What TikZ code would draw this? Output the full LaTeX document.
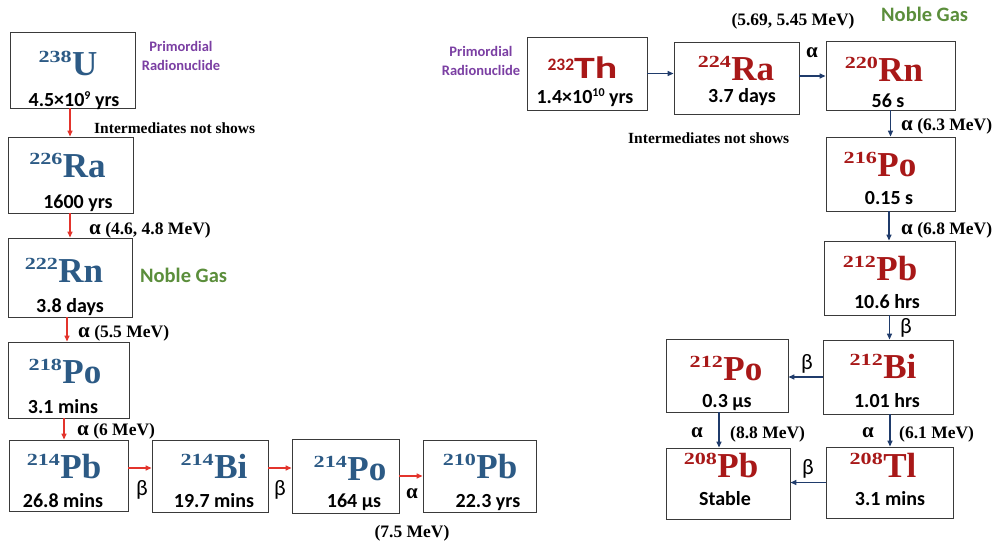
\documentclass[tikz,border=0pt]{standalone}
\usepackage{fontspec}
\setmainfont{Liberation Serif}
\newfontfamily\calfont{Carlito}
\newfontfamily\supfont[FakeStretch=1.3]{Liberation Serif}
\newfontfamily\thfont[FakeStretch=1.35]{Carlito}
\usetikzlibrary{arrows.meta}
\definecolor{ublue}{HTML}{2C5A85}
\definecolor{tred}{HTML}{A81818}
\definecolor{arrred}{HTML}{E3342C}
\definecolor{arrnavy}{HTML}{1F3B6B}
\definecolor{purp}{HTML}{7B3FA3}
\definecolor{ngreen}{HTML}{5B8E3B}
\definecolor{boxc}{HTML}{3A3A3A}
\newcommand\isoS[2]{\raisebox{13pt}{\fontsize{17}{17}\selectfont\supfont\bfseries #1}\kern0.5pt{\fontsize{35}{35}\selectfont\bfseries #2}}
\newcommand\isoTh[2]{\raisebox{8pt}{\fontsize{17.5}{17.5}\selectfont\calfont\bfseries #1}{\fontsize{31}{31}\selectfont\thfont\bfseries #2}}
\newcommand\tsup[1]{\raisebox{7pt}{\fontsize{12}{12}\selectfont #1}}
\tikzset{
  nbox/.style={draw=boxc, line width=0.9pt, inner sep=0pt, fill=white},
  symL/.style={text=ublue, inner sep=0pt, anchor=base},
  symR/.style={text=tred, inner sep=0pt, anchor=base},
  tlab/.style={inner sep=0pt, anchor=base, text=black, font=\calfont\bfseries\fontsize{20}{20}\selectfont},
  elab/.style={inner sep=0pt, anchor=base west, font=\bfseries\fontsize{17.5}{17.5}\selectfont},
  glab/.style={inner sep=0pt, anchor=base, font=\bfseries\fontsize{21}{21}\selectfont},
  blab/.style={inner sep=0pt, anchor=base, font=\calfont\fontsize{22}{22}\selectfont},
  plab/.style={inner sep=0pt, text=purp, align=center, font=\calfont\bfseries\fontsize{14.5}{19}\selectfont},
  nglab/.style={inner sep=0pt, anchor=base west, text=ngreen, font=\calfont\bfseries\fontsize{20.5}{20.5}\selectfont},
  ilab/.style={inner sep=0pt, anchor=base west, font=\bfseries\fontsize{15.5}{15.5}\selectfont},
  arrR/.style={draw=arrred, line width=1.4pt, -{Triangle[length=6pt,width=5pt]}},
  arrN/.style={draw=arrnavy, line width=1.4pt, -{Triangle[length=6pt,width=5pt]}}
}
\begin{document}
\begin{tikzpicture}[x=1pt,y=-1pt]
\useasboundingbox (0,0) rectangle (998,544);
\fill[white] (0,0) rectangle (998,544);
% ---------- left chain boxes ----------
\node[nbox, minimum width=125pt, minimum height=76pt] (U238) at (72.5,70) {};
\node[nbox, minimum width=125pt, minimum height=76pt] (Ra226) at (70.5,175) {};
\node[nbox, minimum width=124pt, minimum height=79pt] (Rn222) at (70,277.5) {};
\node[nbox, minimum width=121pt, minimum height=76pt] (Po218) at (68.5,380) {};
\node[nbox, minimum width=119pt, minimum height=71pt] (Pb214) at (68.5,475.5) {};
\node[nbox, minimum width=116pt, minimum height=72pt] (Bi214) at (210,476) {};
\node[nbox, minimum width=107pt, minimum height=74pt] (Po214) at (345.5,476) {};
\node[nbox, minimum width=113pt, minimum height=72pt] (Pb210) at (479.5,476) {};
% texts
\node[symL] (U238s) at (68,75) {\isoS{238}{U}};
\node[tlab] (U238t) at (74,106) {4.5×10\tsup{9} yrs};
\node[symL] (Ra226s) at (67.5,177) {\isoS{226}{Ra}};
\node[tlab] (Ra226t) at (78,208) {1600 yrs};
\node[symL] (Rn222s) at (64,282) {\isoS{222}{Rn}};
\node[tlab] (Rn222t) at (70,312) {3.8 days};
\node[symL] (Po218s) at (65,383) {\isoS{218}{Po}};
\node[tlab] (Po218t) at (63,413) {3.1 mins};
\node[symL] (Pb214s) at (64,478) {\isoS{214}{Pb}};
\node[tlab] (Pb214t) at (63,507) {26.8 mins};
\node[symL] (Bi214s) at (214,478) {\isoS{214}{Bi}};
\node[tlab] (Bi214t) at (214,507) {19.7 mins};
\node[symL] (Po214s) at (350,480) {\isoS{214}{Po}};
\node[tlab] (Po214t) at (354,507) {164 μs};
\node[symL] (Pb210s) at (480,478) {\isoS{210}{Pb}};
\node[tlab] (Pb210t) at (488,507) {22.3 yrs};
% left labels
\node[plab] (primL) at (181,56) {Primordial\\Radionuclide};
\node[ilab] (intL) at (94,133) {Intermediates not shows};
\node[elab] (aL1) at (89,234) {{\fontsize{21}{21}\selectfont α} (4.6, 4.8 MeV)};
\node[nglab] (ngL) at (140,282) {Noble Gas};
\node[elab] (aL2) at (78,337) {{\fontsize{21}{21}\selectfont α} (5.5 MeV)};
\node[elab] (aL3) at (77,435) {{\fontsize{21}{21}\selectfont α} (6 MeV)};
\node[blab] (bL1) at (142,495) {β};
\node[blab] (bL2) at (280,495) {β};
\node[glab] (aL4) at (412,498) {α};
\node[inner sep=0pt, anchor=base, font=\bfseries\fontsize{17.5}{17.5}\selectfont] (aL4e) at (412,537) {(7.5 MeV)};
% left arrows
\draw[arrR] ([xshift=-2.5pt]U238.south) -- ([xshift=-2.5pt]U238.south |- Ra226.north);
\draw[arrR] ([xshift=-0.5pt]Ra226.south) -- ([xshift=-0.5pt]Ra226.south |- Rn222.north);
\draw[arrR] ([xshift=-3pt]Rn222.south) -- ([xshift=-3pt]Rn222.south |- Po218.north);
\draw[arrR] ([xshift=-4.5pt]Po218.south) -- ([xshift=-4.5pt]Po218.south |- Pb214.north);
\draw[arrR] ([yshift=7.5pt]Pb214.east) -- ([yshift=7.5pt]Pb214.east -| Bi214.west);
\draw[arrR] ([yshift=8pt]Bi214.east) -- ([yshift=8pt]Bi214.east -| Po214.west);
\draw[arrR] (Po214.east) -- (Po214.east -| Pb210.west);
% ---------- right chain boxes ----------
\node[nbox, minimum width=120pt, minimum height=73pt] (Th232) at (587,73.5) {};
\node[nbox, minimum width=125pt, minimum height=72pt] (Ra224) at (736.5,78) {};
\node[nbox, minimum width=129pt, minimum height=69pt] (Rn220) at (890.5,75.5) {};
\node[nbox, minimum width=129pt, minimum height=74pt] (Po216) at (890.5,174) {};
\node[nbox, minimum width=131pt, minimum height=74pt] (Pb212) at (889.5,278) {};
\node[nbox, minimum width=130pt, minimum height=74pt] (Bi212) at (888,377) {};
\node[nbox, minimum width=122pt, minimum height=73pt] (Po212) at (727,375.5) {};
\node[nbox, minimum width=124pt, minimum height=71pt] (Pb208) at (728,483.5) {};
\node[nbox, minimum width=127pt, minimum height=71pt] (Tl208) at (889.5,482.5) {};
% texts
\node[symR] (Th232s) at (582.5,78) {\isoTh{232}{Th}};
\node[tlab] (Th232t) at (585,103) {1.4×10\tsup{10} yrs};
\node[symR] (Ra224s) at (736,80) {\isoS{224}{Ra}};
\node[tlab] (Ra224t) at (742,102) {3.7 days};
\node[symR] (Rn220s) at (884,81) {\isoS{220}{Rn}};
\node[tlab] (Rn220t) at (888,107) {56 s};
\node[symR] (Po216s) at (880,176) {\isoS{216}{Po}};
\node[tlab] (Po216t) at (889,204) {0.15 s};
\node[symR] (Pb212s) at (880,280) {\isoS{212}{Pb}};
\node[tlab] (Pb212t) at (887,308) {10.6 hrs};
\node[symR] (Bi212s) at (883,378) {\isoS{212}{Bi}};
\node[tlab] (Bi212t) at (887,407) {1.01 hrs};
\node[symR] (Po212s) at (726,380) {\isoS{212}{Po}};
\node[tlab] (Po212t) at (727,407) {0.3 μs};
\node[symR] (Pb208s) at (721,477) {\isoS{208}{Pb}};
\node[tlab] (Pb208t) at (725,505) {Stable};
\node[symR] (Tl208s) at (883,477) {\isoS{208}{Tl}};
\node[tlab] (Tl208t) at (890,505) {3.1 mins};
% right labels
\node[plab] (primR) at (481,61) {Primordial\\Radionuclide};
\node[ilab] (intR) at (628,143) {Intermediates not shows};
\node[inner sep=0pt, anchor=base, font=\bfseries\fontsize{17.5}{17.5}\selectfont] (aR1e) at (793,25) {(5.69, 5.45 MeV)};
\node[nglab] (ngR) at (881,21) {Noble Gas};
\node[glab] (aR1) at (812,57) {α};
\node[elab] (aR2) at (901,130) {{\fontsize{21}{21}\selectfont α} (6.3 MeV)};
\node[elab] (aR3) at (901,234) {{\fontsize{21}{21}\selectfont α} (6.8 MeV)};
\node[blab] (bR1) at (906,333) {β};
\node[blab] (bR2) at (807,369) {β};
\node[glab] (aR4) at (697,437) {α};
\node[elab] (aR4e) at (730,438) {(8.8 MeV)};
\node[glab] (aR5) at (868,437) {α};
\node[elab] (aR5e) at (899,438) {(6.1 MeV)};
\node[blab] (bR3) at (808,474) {β};
% right arrows
\draw[arrN] (Th232.east) -- (Th232.east -| Ra224.west);
\draw[arrN] ([yshift=2pt]Ra224.east) -- ([yshift=2pt]Ra224.east -| Rn220.west);
\draw[arrN] (Rn220.south) -- (Rn220.south |- Po216.north);
\draw[arrN] ([xshift=-1.5pt]Po216.south) -- ([xshift=-1.5pt]Po216.south |- Pb212.north);
\draw[arrN] (Pb212.south) -- (Pb212.south |- Bi212.north);
\draw[arrN] (Bi212.west) -- (Bi212.west -| Po212.east);
\draw[arrN] ([xshift=-8pt]Po212.south) -- ([xshift=-8pt]Po212.south |- Pb208.north);
\draw[arrN] ([xshift=2pt]Bi212.south) -- ([xshift=2pt]Bi212.south |- Tl208.north);
\draw[arrN] (Tl208.west) -- (Tl208.west -| Pb208.east);
\end{tikzpicture}
\end{document}
